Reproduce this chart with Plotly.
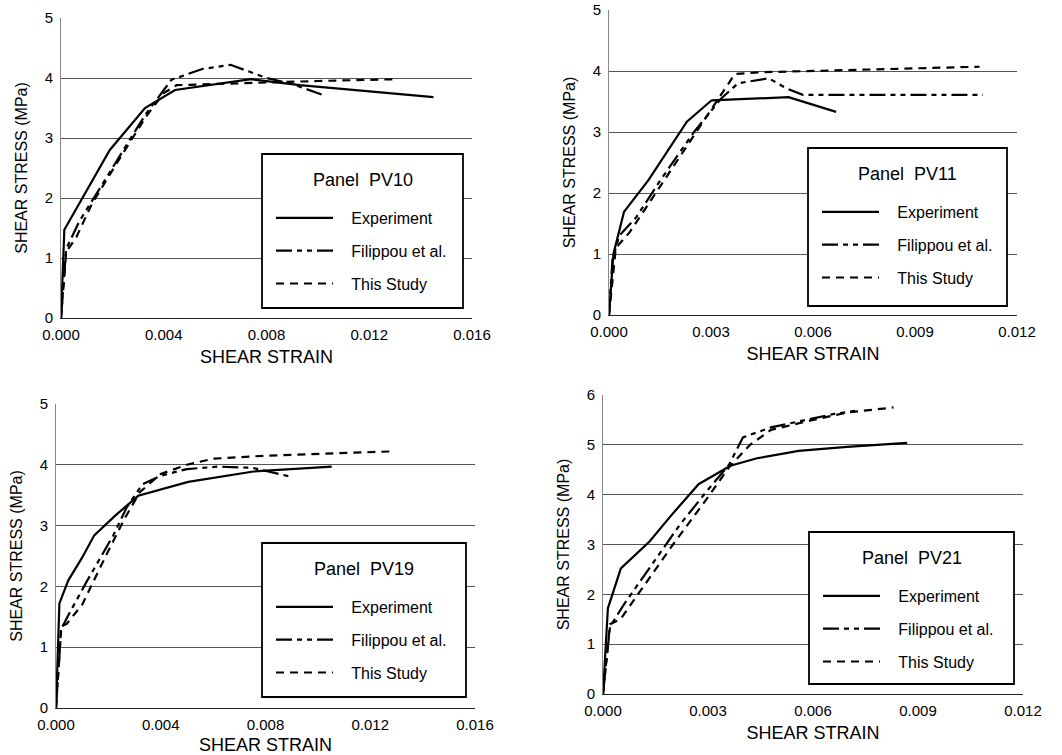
import plotly.graph_objects as go

# ---------------- data ----------------
# Panel PV10
pv10_exp_x = [0.0, 0.00013, 0.0019, 0.00327, 0.00444, 0.0074, 0.0093, 0.0145]
pv10_exp_y = [0.0, 1.47, 2.8, 3.5, 3.8, 3.98, 3.88, 3.68]
pv10_fil_x = [0.0, 0.0002, 0.0007, 0.0020, 0.0033, 0.0043, 0.0055, 0.0066, 0.0080, 0.0090, 0.0103]
pv10_fil_y = [0.0, 1.15, 1.6, 2.5, 3.4, 3.97, 4.15, 4.22, 4.0, 3.9, 3.7]
pv10_std_x = [0.0, 0.0002, 0.0006, 0.0012, 0.0022, 0.0033, 0.0040, 0.0045, 0.0060, 0.0080, 0.0100, 0.0131]
pv10_std_y = [0.0, 1.1, 1.35, 1.9, 2.6, 3.35, 3.75, 3.88, 3.9, 3.93, 3.95, 3.98]

# Panel PV11
pv11_exp_x = [0.0, 0.00013, 0.00044, 0.00116, 0.00229, 0.00302, 0.00528, 0.00668]
pv11_exp_y = [0.0, 1.0, 1.69, 2.21, 3.17, 3.52, 3.57, 3.33]
pv11_fil_x = [0.0, 0.0001, 0.0003, 0.0008, 0.0015, 0.0025, 0.0033, 0.0038, 0.0047, 0.0052, 0.0057, 0.0110]
pv11_fil_y = [0.0, 0.9, 1.3, 1.6, 2.2, 3.0, 3.55, 3.8, 3.88, 3.72, 3.61, 3.61]
pv11_std_x = [0.0, 0.0002, 0.0006, 0.0012, 0.0022, 0.0030, 0.0037, 0.0045, 0.0060, 0.0080, 0.0109]
pv11_std_y = [0.0, 1.1, 1.35, 1.85, 2.7, 3.35, 3.95, 3.98, 4.0, 4.03, 4.07]

# Panel PV19
pv19_exp_x = [0.0, 0.00013, 0.00047, 0.00098, 0.00146, 0.00225, 0.00314, 0.00505, 0.00754, 0.01053]
pv19_exp_y = [0.0, 1.72, 2.10, 2.46, 2.84, 3.16, 3.49, 3.72, 3.89, 3.97]
pv19_fil_x = [0.0, 0.0002, 0.0005, 0.0012, 0.0022, 0.0027, 0.0033, 0.0040, 0.0050, 0.0062, 0.0075, 0.0090]
pv19_fil_y = [0.0, 1.3, 1.55, 2.1, 2.85, 3.3, 3.68, 3.82, 3.93, 3.97, 3.95, 3.8]
pv19_std_x = [0.0, 0.0002, 0.0004, 0.0010, 0.0019, 0.0026, 0.0032, 0.0040, 0.0050, 0.0060, 0.0080, 0.0100, 0.0128]
pv19_std_y = [0.0, 1.35, 1.38, 1.7, 2.5, 3.1, 3.55, 3.85, 4.0, 4.1, 4.15, 4.18, 4.22]

# Panel PV21
pv21_exp_x = [0.0, 0.00014, 0.00051, 0.00133, 0.00192, 0.00273, 0.00364, 0.0044, 0.00559, 0.00697, 0.00869]
pv21_exp_y = [0.0, 1.72, 2.52, 3.06, 3.56, 4.21, 4.58, 4.73, 4.88, 4.96, 5.04]
pv21_fil_x = [0.0, 0.0002, 0.0006, 0.0014, 0.0022, 0.0030, 0.0036, 0.0040, 0.0048, 0.0058, 0.0066, 0.0072]
pv21_fil_y = [0.0, 1.35, 1.8, 2.6, 3.4, 4.1, 4.6, 5.15, 5.35, 5.5, 5.62, 5.68]
pv21_std_x = [0.0, 0.0002, 0.0005, 0.0012, 0.0020, 0.0030, 0.0036, 0.0042, 0.0048, 0.0060, 0.0070, 0.0083]
pv21_std_y = [0.0, 1.4, 1.5, 2.2, 3.0, 3.95, 4.55, 5.0, 5.3, 5.5, 5.65, 5.75]

series_names = ["Experiment", "Filippou et al.", "This Study"]
panel_titles = ["Panel\u00a0 PV10", "Panel\u00a0 PV11", "Panel\u00a0 PV19", "Panel\u00a0 PV21"]
x_ticks = [[0, 0.004, 0.008, 0.012, 0.016], [0, 0.003, 0.006, 0.009, 0.012],
           [0, 0.004, 0.008, 0.012, 0.016], [0, 0.003, 0.006, 0.009, 0.012]]
y_max = [5, 5, 5, 6]

panels = [
    [(pv10_exp_x, pv10_exp_y), (pv10_fil_x, pv10_fil_y), (pv10_std_x, pv10_std_y)],
    [(pv11_exp_x, pv11_exp_y), (pv11_fil_x, pv11_fil_y), (pv11_std_x, pv11_std_y)],
    [(pv19_exp_x, pv19_exp_y), (pv19_fil_x, pv19_fil_y), (pv19_std_x, pv19_std_y)],
    [(pv21_exp_x, pv21_exp_y), (pv21_fil_x, pv21_fil_y), (pv21_std_x, pv21_std_y)],
]

# ---------------- layout geometry (pixels in 1062x755) ----------------
W, H = 1062, 755
plot_px = [(61, 472, 18, 318), (609, 1017, 10, 315), (56, 475, 404, 708), (603, 1023, 395, 694)]
box_px = [(262, 463, 154, 308), (808, 1007, 148, 306), (262, 466, 543, 697), (809, 1014, 532, 684)]

styles = [
    dict(color="black", width=2.2, dash="solid"),
    dict(color="black", width=2.2, dash="16px,5px,5px,5px,5px,5px"),
    dict(color="black", width=2.2, dash="8px,6px"),
]

FONT = "Liberation Sans, Arial, Helvetica, sans-serif"
NB = "\u00a0" * 3
fig = go.Figure()
layout = dict(
    width=W, height=H, margin=dict(l=0, r=0, t=0, b=0),
    paper_bgcolor="white", plot_bgcolor="white",
    font=dict(family=FONT, color="black"),
    shapes=[], annotations=[],
)

for i, panel in enumerate(panels):
    k = "" if i == 0 else str(i + 1)
    leg = "legend" if i == 0 else f"legend{i+1}"
    for j, (xs, ys) in enumerate(panel):
        fig.add_trace(go.Scatter(
            x=xs, y=ys, mode="lines", name=NB + series_names[j], line=styles[j],
            xaxis="x" + k, yaxis="y" + k, legend=leg,
            legendgroup=f"p{i}s{j}", showlegend=True,
        ))
    x0, x1, y0, y1 = plot_px[i]
    layout["xaxis" + k] = dict(
        domain=[x0 / W, x1 / W], anchor="y" + k, range=[0, x_ticks[i][-1]],
        tickvals=x_ticks[i], tickformat=".3f", showgrid=False, zeroline=False,
        showline=True, linecolor="#222", linewidth=1.2, ticks="",
        tickfont=dict(size=15, family=FONT), automargin=False, ticklabelstandoff=3,
        title=dict(text="SHEAR STRAIN", font=dict(size=18, family=FONT), standoff=8),
    )
    layout["yaxis" + k] = dict(
        domain=[1 - y1 / H, 1 - y0 / H], anchor="x" + k, range=[0, y_max[i]],
        dtick=1, showgrid=True, gridcolor="#555", gridwidth=1, zeroline=False,
        showline=True, linecolor="#888", linewidth=1, ticks="",
        tickfont=dict(size=15, family=FONT), automargin=False, ticklabelstandoff=4,
        title=dict(text="SHEAR STRESS (MPa)", font=dict(size=16, family=FONT), standoff=13),
    )
    bx0, bx1, by0, by1 = box_px[i]
    layout["shapes"].append(dict(
        type="rect", xref="paper", yref="paper", layer="above",
        x0=bx0 / W, x1=bx1 / W, y0=1 - by1 / H, y1=1 - by0 / H,
        line=dict(color="black", width=1.8), fillcolor="white",
    ))
    layout["annotations"].append(dict(
        text=panel_titles[i], xref="paper", yref="paper", showarrow=False,
        x=(bx0 + bx1) / 2 / W, y=1 - (by0 + 26) / H, xanchor="center", yanchor="middle",
        font=dict(size=18, family=FONT, color="black"),
    ))
    bw = bx1 - bx0
    layout[leg] = dict(
        x=(bx0 + 9) / W, y=1 - (by0 + 47) / H, xanchor="left", yanchor="top",
        bgcolor="rgba(0,0,0,0)", borderwidth=0,
        font=dict(size=16, family=FONT), itemwidth=57, tracegroupgap=9,
        entrywidth=bw - 18 - 38, itemclick=False, itemdoubleclick=False,
    )

fig.update_layout(**layout)
fig.write_html("out.html")
